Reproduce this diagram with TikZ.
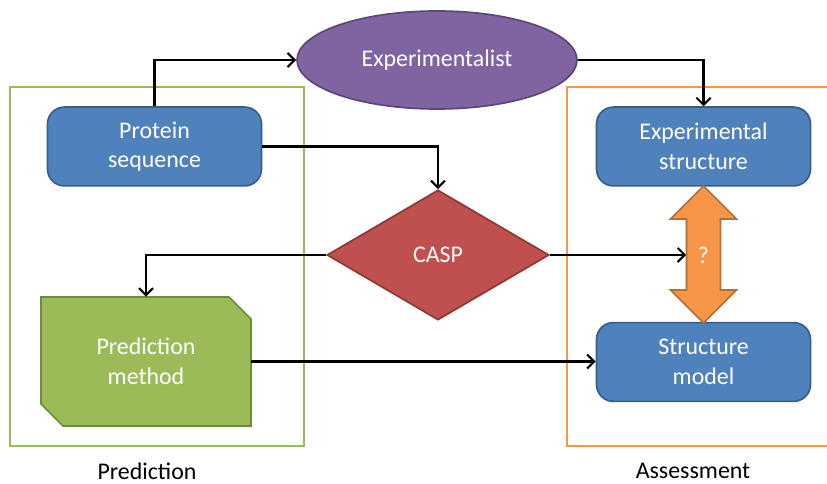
\documentclass[tikz,border=0pt]{standalone}
\usepackage{fontspec}
\setmainfont{Carlito}
\usetikzlibrary{arrows.meta,shapes.geometric}
\definecolor{boxblue}{HTML}{4F81BD}
\definecolor{boxblueb}{HTML}{385D8A}
\definecolor{expurple}{HTML}{8064A2}
\definecolor{expurpleb}{HTML}{5C4776}
\definecolor{caspred}{HTML}{C0504D}
\definecolor{caspredb}{HTML}{8C3836}
\definecolor{predgreen}{HTML}{9BBB59}
\definecolor{predgreenb}{HTML}{71893F}
\definecolor{assorange}{HTML}{F79646}
\definecolor{assorangeb}{HTML}{B66D31}
\begin{document}
\begin{tikzpicture}[every node/.style={font=\fontsize{17}{21}\selectfont},
  blk/.style={draw=boxblueb,fill=boxblue,line width=1.2pt,rounded corners=12pt,text=white,align=center,minimum width=5.35cm,minimum height=1.97cm},
  flow/.style={line width=1.5pt,-{Straight Barb[length=5pt,width=10pt]}},
  frame/.style={line width=1.3pt}]
\useasboundingbox (0,0) rectangle (20.675,12.1);
\draw[frame,predgreen] (0.25,0.95) rectangle (7.6,9.925);
\draw[frame,assorange] (20.8,9.925) -- (14.175,9.925) -- (14.175,0.95) -- (20.8,0.95);
\node[ellipse,draw=expurpleb,fill=expurple,line width=1.2pt,text=white,minimum width=7cm,minimum height=2.45cm] (exp) at (10.925,10.6) {Experimentalist};
\node[blk] (prot) at (3.8625,8.4375) {Protein\\sequence};
\node[blk] (expst) at (17.5875,8.4375) {Experimental\\structure};
\node[blk] (model) at (17.5875,3.05) {Structure\\model};
\node[diamond,draw=caspredb,fill=caspred,line width=1.2pt,text=white,minimum width=5.55cm,minimum height=3.25cm,inner sep=0pt] (casp) at (10.95,5.725) {CASP};
% cut corner box
\draw[draw=predgreenb,fill=predgreen,line width=1.2pt]
  (1.025,4.675) -- (5.725,4.675) -- (6.275,4.125) -- (6.275,1.45) -- (1.575,1.45) -- (1.025,2.0) -- cycle;
\node[text=white,align=center,minimum width=5.25cm,minimum height=3.225cm] (pred) at (3.65,3.0625) {Prediction\\method};
\draw[draw=assorangeb,fill=assorange,line width=1.2pt,line join=miter]
  (17.5875,7.45) -- (18.4125,6.625) -- (18.0125,6.625) -- (18.0125,4.85) -- (18.4125,4.85)
  -- (17.5875,4.025) -- (16.7625,4.85) -- (17.1625,4.85) -- (17.1625,6.625) -- (16.7625,6.625) -- cycle;
\node[text=white,minimum width=0.85cm,inner sep=0pt] (q) at (17.5875,5.725) {?};
\draw[flow] (prot.north) |- (exp.west);
\draw[flow] (exp.east) -| (expst.north);
\draw[flow] (prot.east) -| (casp.north);
\draw[flow] (casp.west) -| (pred.north);
\draw[flow] (casp.east) -- (q.west);
\draw[flow] (pred.east) -- (pred.east -| model.west);
\node (predlbl) at (3.675,0.325) {Prediction};
\node (asslbl) at (17.325,0.325) {Assessment};
\end{tikzpicture}
\end{document}
